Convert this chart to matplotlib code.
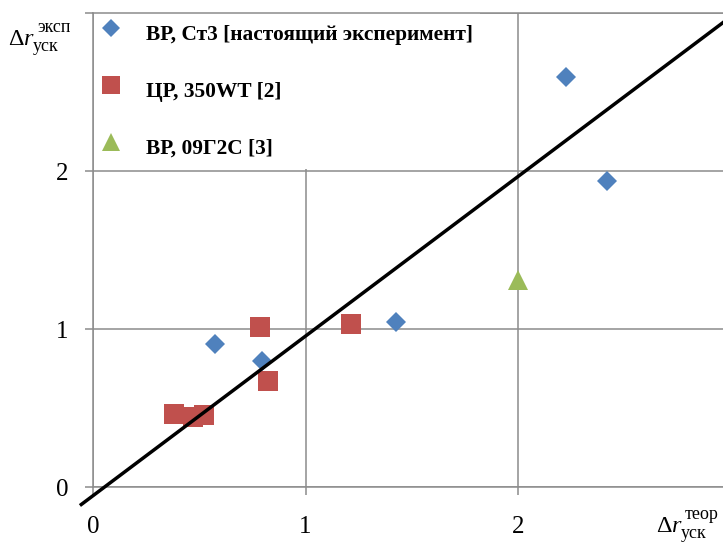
import matplotlib
matplotlib.use('Agg')
import matplotlib.pyplot as plt
import numpy as np

plt.rcParams['font.family'] = ['Liberation Serif', 'DejaVu Serif']
plt.rcParams['mathtext.fontset'] = 'custom'
plt.rcParams['mathtext.rm'] = 'Liberation Serif'
plt.rcParams['mathtext.it'] = 'Liberation Serif:italic'

GRID_COLOR = '#8c8c8c'
W, H = 723, 544

# ВР, Ст3 [настоящий эксперимент]
st3_x = [0.574, 0.795, 1.426, 2.225, 2.42]
st3_y = [0.905, 0.797, 1.044, 2.593, 1.937]
# ЦР, 350WT [2]
wt_x = [0.38, 0.47, 0.52, 0.786, 0.824, 1.214]
wt_y = [0.46, 0.44, 0.455, 1.01, 0.67, 1.03]
# ВР, 09Г2С [3]
g2s_x = [2.0]
g2s_y = [1.31]

# theoretical line
line_slope = 1.01
line_intercept = -0.055
line_x = np.array([-0.055, 3.0])

ticks = [0, 1, 2, 3]
tick_labels = ['0', '1', '2', '']


def delta_label(fig, x_px, base_px, sup, sub):
    """Δr with upper and lower index, positioned in figure pixels."""
    fig.text(x_px / W, 1 - base_px / H, r'$\Delta r$', fontsize=17.5,
             va='baseline', ha='left')
    fig.text((x_px + 29) / W, 1 - (base_px - 13) / H, sup, fontsize=13,
             va='baseline', ha='left')
    fig.text((x_px + 25) / W, 1 - (base_px + 6) / H, sub, fontsize=13,
             va='baseline', ha='left')


fig = plt.figure(figsize=(W / 100, H / 100), dpi=100)
ax = fig.add_axes([93 / W, 57 / H, 637.5 / W, 474 / H])

ax.plot(st3_x, st3_y, 'D', color='#4f81bd', ms=10, mew=0,
        label='ВР, Ст3 [настоящий эксперимент]', zorder=3)
ax.plot(wt_x, wt_y, 's', color='#c0504d', ms=14.5, mew=0,
        label='ЦР, 350WT [2]', zorder=3)
ax.plot(g2s_x, g2s_y, '^', color='#9bbb59', ms=14.5, mew=0,
        label='ВР, 09Г2С [3]', zorder=3)
ax.plot(line_x, line_slope * line_x + line_intercept, color='black',
        lw=2.5, clip_on=False, zorder=4)

ax.set_xlim(0, 3)
ax.set_ylim(0, 3)
ax.set_xticks(ticks)
ax.set_xticklabels(tick_labels)
ax.set_yticks(ticks)
ax.set_yticklabels(tick_labels)
ax.tick_params(direction='out', length=5.8, width=1.1, color=GRID_COLOR,
               labelsize=18, pad=12)
ax.tick_params(axis='x', pad=15)
ax.grid(True, color=GRID_COLOR, lw=1.1)
ax.set_axisbelow(True)
for side in ['left', 'bottom', 'top']:
    ax.spines[side].set_color(GRID_COLOR)
    ax.spines[side].set_linewidth(1.1)
ax.spines['top'].set_zorder(6)
ax.spines['right'].set_visible(False)

# white legend box hides the grid down to the y=2 line, as in the original
leg = ax.legend(loc='upper left', bbox_to_anchor=(0.002, 1.006), numpoints=1,
                prop={'weight': 'bold', 'size': 15.4}, labelspacing=1.153,
                handlelength=1.0, handleheight=1.95, handletextpad=1.14,
                borderpad=0.3, borderaxespad=0, frameon=True, fancybox=False,
                facecolor='white', edgecolor='none', framealpha=1)
leg.set_zorder(5)
for h in leg.legend_handles:
    h.set_markersize(9.2 if h.get_marker() == 'D' else 13)

delta_label(fig, 8, 45, 'эксп', 'уск')
delta_label(fig, 656, 532, 'теор', 'уск')

fig.savefig('out.png', dpi=100)
